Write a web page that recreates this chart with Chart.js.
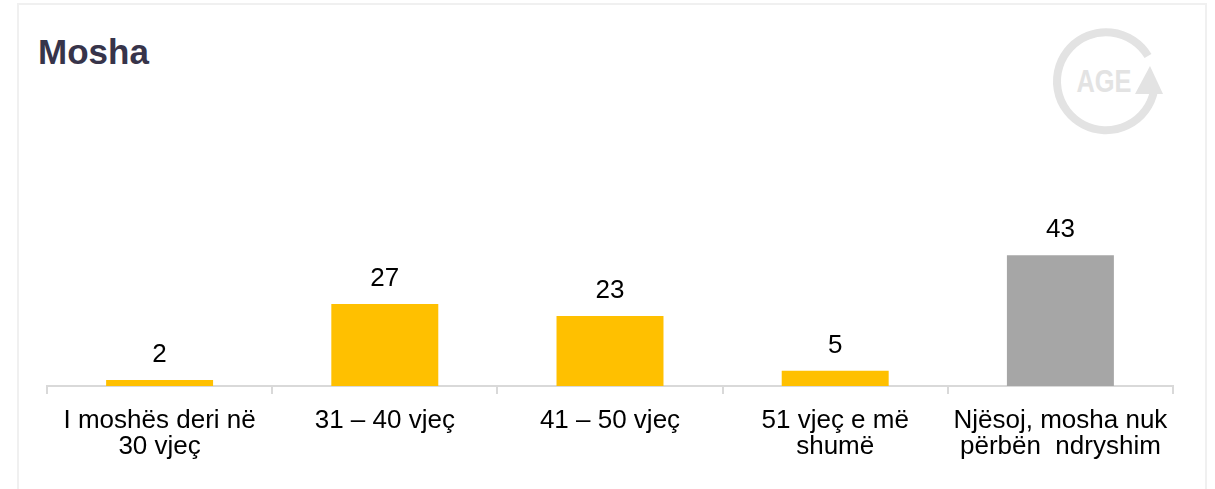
<!DOCTYPE html>
<html>
<head>
<meta charset="utf-8">
<script src="https://cdn.jsdelivr.net/npm/chart.js@4"></script>
<style>
  html, body { margin: 0; padding: 0; background: #fff; }
  body { width: 1215px; height: 489px; position: relative; overflow: hidden; font-family: "Liberation Sans", Arial, sans-serif; }
  #frame { position: absolute; left: 17px; top: 3px; width: 1190px; height: 500px; border: 2px solid #f0f0f0; box-sizing: border-box; }
  #title { position: absolute; left: 38px; top: 32px; font-size: 35px; font-weight: bold; color: #37344a; line-height: 40px; }
  #logo { position: absolute; left: 1040px; top: 20px; }
  #wrap { position: absolute; left: 0; top: 0; width: 1215px; height: 489px; }
</style>
</head>
<body>
<div id="frame"></div>
<div id="title">Mosha</div>
<svg id="logo" width="140" height="130" viewBox="0 0 140 130">
  <!-- circular arrow, open at upper right -->
  <path d="M 108 36 A 49 49 0 1 0 114 71" fill="none" stroke="#e3e3e3" stroke-width="8"/>
  <polygon points="95,74 123,74 110,46" fill="#e3e3e3"/>
  <text x="64" y="72" text-anchor="middle" font-family="Liberation Sans, Arial" font-weight="bold" font-size="32" fill="#e3e3e3" textLength="55" lengthAdjust="spacingAndGlyphs">AGE</text>
</svg>
<div id="wrap"><canvas id="chart"></canvas></div>
<script>
const categories = [
  ['I moshës deri në', '30 vjeç'],
  '31 – 40 vjeç',
  '41 – 50 vjeç',
  ['51 vjeç e më', 'shumë'],
  ['Njësoj, mosha nuk', 'përbën  ndryshim']
];
const values = [2, 27, 23, 5, 43];
const barColors = ['#ffc000', '#ffc000', '#ffc000', '#ffc000', '#a6a6a6'];

// values above the bars
const valueLabels = {
  id: 'valueLabels',
  afterDatasetsDraw(chart) {
    const ctx = chart.ctx;
    const meta = chart.getDatasetMeta(0);
    ctx.save();
    ctx.font = '26px "Liberation Sans", Arial, sans-serif';
    ctx.fillStyle = '#000';
    ctx.textAlign = 'center';
    ctx.textBaseline = 'alphabetic';
    meta.data.forEach(function (bar, i) {
      ctx.fillText(values[i], bar.x, bar.y - 18);
    });
    ctx.restore();
  }
};

new Chart(document.getElementById('chart'), {
  type: 'bar',
  data: {
    labels: categories,
    datasets: [{
      data: values,
      backgroundColor: barColors,
      borderWidth: 0,
      categoryPercentage: 1,
      barPercentage: 0.475
    }]
  },
  options: {
    responsive: true,
    maintainAspectRatio: false,
    animation: false,
    layout: {
      padding: { left: 47, right: 42, top: 234, bottom: 15 }
    },
    scales: {
      y: {
        display: false,
        min: 0,
        max: 50
      },
      x: {
        grid: {
          offset: true,
          drawOnChartArea: false,
          drawTicks: true,
          tickLength: 8,
          color: '#d9d9d9',
          lineWidth: 2
        },
        border: { display: true, color: '#d9d9d9', width: 2 },
        ticks: {
          color: '#000',
          padding: 14,
          maxRotation: 0,
          autoSkip: false,
          font: { family: '"Liberation Sans", Arial, sans-serif', size: 26, lineHeight: 1.0 }
        }
      }
    },
    plugins: {
      legend: { display: false },
      tooltip: { enabled: false }
    }
  },
  plugins: [valueLabels]
});
</script>
</body>
</html>
